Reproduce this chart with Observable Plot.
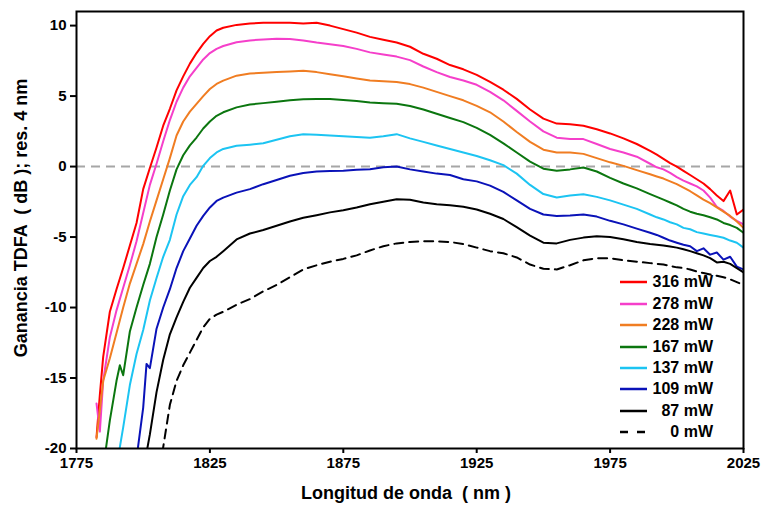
<!DOCTYPE html>
<html>
<head>
<meta charset="utf-8">
<script src="https://cdn.jsdelivr.net/npm/d3@7"></script>
<script src="https://cdn.jsdelivr.net/npm/@observablehq/plot@0.6"></script>
<style>
  html, body { margin: 0; padding: 0; background: #fff; }
  #chart { position: relative; width: 764px; height: 510px; font-family: 'Liberation Sans', Arial, sans-serif; font-weight: bold; }
  #legend { position: absolute; left: 620px; top: 271.6px; }
  #legend .row { display: flex; align-items: center; height: 21.43px; }
  #legend .lab { width: 66px; text-align: right; font-size: 16px; color: #000; line-height: 16px; }
</style>
</head>
<body>
<div id="chart"></div>
<script>
// ---- data ----
const wavelength = [
  1782.5,1783.75,1785,1787.5,1790,1791.25,1792.5,1795,1797.5,1800,1801.25,1802.5,1805,
  1807.5,1810,1812.5,1815,1817.5,1820,1822.5,1825,1827.5,1830,
  1835,1840,1845,1850,1855,1860,1865,1870,1875,1880,1885,1890,1895,1900,1905,1910,
  1915,1920,1925,1930,1935,1940,1945,1950,1955,1960,1965,1970,1975,1980,1985,1990,
  1992.5,1995,1997.5,2000,2002.5,2005,2007.5,2010,2012.5,2015,2017.5,2020,2022.5,2025
];
const gain316 = [
  -19.2,-16.2,-13.5,-10.3,-8.7,null,-7.2,-5.6,-4.0,-1.6,null,-0.1,1.35,
  2.9,4.1,5.4,6.4,7.3,8.05,8.7,9.25,9.65,9.85,
  10.05,10.15,10.2,10.2,10.2,10.15,10.2,10.0,9.75,9.5,9.2,9.0,8.8,8.5,8.0,7.65,
  7.2,6.9,6.5,6.0,5.45,4.8,4.05,3.4,3.05,3.0,2.9,2.65,2.35,2.0,1.6,1.12,
  0.85,0.55,0.25,0.0,-0.3,-0.6,-0.9,-1.2,-1.6,-2.05,-2.45,-1.7,-3.4,-3.05
];
const gain278 = [
  -16.8,-18.8,-15.2,-12.1,-10.2,null,-8.6,-7.0,-5.3,-3.3,null,-1.3,0.2,
  1.8,3.3,4.6,5.6,6.4,7.0,7.6,8.05,8.35,8.55,
  8.82,8.95,9.02,9.06,9.05,8.95,8.8,8.68,8.55,8.35,8.1,7.95,7.8,7.55,7.1,6.7,
  6.35,6.1,5.8,5.3,4.7,3.95,3.2,2.5,2.05,1.95,1.95,1.6,1.25,1.0,0.7,0.2,
  -0.05,-0.2,-0.45,-0.75,-1.0,-1.2,-1.4,-1.7,-2.2,-2.85,-3.15,-3.55,-3.85,-4.1
];
const gain228 = [
  -19.3,-17.3,-15.2,-13.6,-11.8,null,-10.0,-8.3,-6.9,-5.5,null,-3.9,-2.4,
  -0.9,0.6,2.2,3.2,3.9,4.45,5.0,5.5,5.86,6.1,
  6.45,6.6,6.65,6.7,6.75,6.8,6.7,6.55,6.4,6.25,6.1,6.05,6.0,5.85,5.6,5.3,
  5.0,4.7,4.3,3.85,3.2,2.45,1.75,1.2,1.0,1.0,0.9,0.6,0.3,0.05,-0.25,-0.55,
  -0.7,-0.85,-1.05,-1.25,-1.5,-1.75,-2.05,-2.35,-2.6,-2.9,-3.2,-3.5,-3.9,-4.35
];
const gain167 = [
  null,null,-21.4,-18.0,-15.2,-14.1,-14.8,-11.7,-10.0,-8.4,null,-6.9,-5.0,
  -3.4,-1.7,-0.2,0.8,1.5,2.06,2.7,3.2,3.6,3.85,
  4.2,4.4,4.5,4.6,4.7,4.78,4.8,4.8,4.72,4.65,4.55,4.5,4.45,4.3,4.05,3.75,
  3.45,3.15,2.75,2.25,1.65,1.0,0.35,-0.15,-0.3,-0.2,-0.07,-0.35,-0.8,-1.2,-1.55,-1.95,
  -2.15,-2.35,-2.55,-2.75,-3.0,-3.2,-3.35,-3.45,-3.6,-3.75,-4.0,-4.15,-4.35,-4.7
];
const gain137 = [
  null,null,null,null,-21.4,-19.9,-18.5,-15.5,-13.3,-11.6,null,-9.5,-7.9,
  -6.4,-5.2,-3.4,-2.1,-1.3,-0.75,0.05,0.6,1.0,1.25,
  1.47,1.55,1.65,1.9,2.15,2.3,2.25,2.2,2.15,2.1,2.05,2.15,2.3,2.0,1.75,1.5,
  1.25,1.0,0.75,0.45,0.1,-0.5,-1.3,-1.95,-2.2,-2.05,-1.97,-2.15,-2.4,-2.7,-3.0,-3.4,
  -3.6,-3.75,-3.95,-4.1,-4.35,-4.45,-4.65,-4.75,-4.85,-4.95,-5.05,-5.25,-5.4,-5.75
];
const gain109 = [
  null,null,null,null,null,null,null,null,-20.7,-17.1,-14.0,-14.3,-11.5,
  -10.0,-8.7,-7.2,-6.0,-5.1,-4.2,-3.5,-2.9,-2.44,-2.2,
  -1.85,-1.6,-1.25,-0.95,-0.65,-0.45,-0.35,-0.32,-0.3,-0.22,-0.19,-0.05,0.0,-0.2,-0.35,-0.5,
  -0.6,-0.9,-1.05,-1.35,-1.8,-2.4,-3.0,-3.4,-3.5,-3.48,-3.4,-3.55,-3.85,-4.1,-4.4,-4.7,
  -4.85,-5.05,-5.25,-5.4,-5.55,-5.65,-6.0,-5.8,-6.25,-6.1,-6.6,-6.4,-7.1,-7.3
];
const gain87 = [
  null,null,null,null,null,null,null,null,null,-21.7,-20.3,-19.0,-16.0,
  -13.7,-11.9,-10.7,-9.6,-8.6,-7.9,-7.2,-6.7,-6.4,-6.0,
  -5.17,-4.75,-4.5,-4.2,-3.9,-3.63,-3.45,-3.25,-3.1,-2.9,-2.67,-2.5,-2.32,-2.35,-2.55,-2.67,
  -2.75,-2.85,-3.05,-3.35,-3.72,-4.3,-4.9,-5.4,-5.45,-5.2,-5.04,-4.95,-5.0,-5.15,-5.35,-5.5,
  -5.55,-5.6,-5.67,-5.75,-5.87,-6.0,-6.15,-6.3,-6.5,-6.8,-6.75,-6.9,-7.2,-7.5
];
const gain0 = [
  null,null,null,null,null,null,null,null,null,null,null,null,-23.5,
  -19.9,-16.9,-15.2,-14.1,-13.2,-12.3,-11.4,-10.8,-10.5,-10.3,
  -9.8,-9.4,-8.85,-8.4,-7.85,-7.3,-7.0,-6.75,-6.55,-6.3,-5.95,-5.65,-5.45,-5.35,-5.3,-5.3,
  -5.35,-5.5,-5.75,-6.0,-6.15,-6.45,-6.95,-7.25,-7.3,-7.0,-6.65,-6.5,-6.5,-6.65,-6.75,-6.85,
  -6.9,-6.95,-7.05,-7.15,-7.2,-7.3,-7.45,-7.55,-7.65,-7.75,-7.85,-8.0,-8.2,-8.4
];
const seriesNames = ["316 mW","278 mW","228 mW","167 mW","137 mW","109 mW","87 mW","0 mW"];
const seriesColors = ["#ff0000","#f53fca","#f07d22","#0b760f","#1cc4f2","#0a12b8","#000000","#000000"];
const xTicks = [1775, 1825, 1875, 1925, 1975, 2025];
const yTicks = [-20, -15, -10, -5, 0, 5, 10];
const xTitle = "Longitud de onda  ( nm )";
const yTitle = "Ganancia TDFA  ( dB ); res. 4 nm";

// ---- build long table ----
const allGains = [gain316, gain278, gain228, gain167, gain137, gain109, gain87, gain0];
const rows = [];
allGains.forEach((arr, si) => {
  arr.forEach((v, i) => {
    if (v !== null) rows.push({x: wavelength[i], y: v, s: seriesNames[si]});
  });
});
const solidRows = rows.filter(d => d.s !== "0 mW");
const dashedRows = rows.filter(d => d.s === "0 mW");

const fmt = d => String(d);

const chart = Plot.plot({
  width: 764,
  height: 510,
  marginLeft: 76,
  marginRight: 21,
  marginTop: 11,
  marginBottom: 62,
  x: {domain: [1775, 2025]},
  y: {domain: [-20, 11]},
  color: {domain: seriesNames, range: seriesColors},
  style: {fontFamily: "'Liberation Sans', Arial, sans-serif", fontWeight: "bold", fontSize: "15px", color: "#000", background: "#fff"},
  marks: [
    Plot.ruleY([0], {stroke: "#a6a6a6", strokeWidth: 2, strokeDasharray: "9,6"}),
    Plot.line(solidRows, {x: "x", y: "y", z: "s", stroke: "s", strokeWidth: 2, clip: true}),
    Plot.line(dashedRows, {x: "x", y: "y", z: "s", stroke: "s", strokeWidth: 2, strokeDasharray: "9,6", clip: true}),
    Plot.frame({stroke: "#000", strokeWidth: 2}),
    Plot.axisX({ticks: xTicks, tickFormat: fmt, tickSize: 5, tickPadding: 4, strokeWidth: 2, label: null, fontSize: 15}),
    Plot.axisY({ticks: yTicks, tickFormat: fmt, tickSize: 6, tickPadding: 4, strokeWidth: 2, label: null, fontSize: 15}),
    Plot.text([xTitle], {text: d => d, frameAnchor: "bottom", textAnchor: "middle", dx: -4, dy: 50, fontSize: 18, fontWeight: "bold", fill: "#000"}),
    Plot.text([yTitle], {text: d => d, frameAnchor: "left", textAnchor: "middle", dx: -55, dy: -12, rotate: -90, fontSize: 18, fontWeight: "bold", fill: "#000"})
  ]
});

const container = document.getElementById("chart");
container.appendChild(chart);

// ---- legend (inside the plot, bottom right) ----
const legend = document.createElement("div");
legend.id = "legend";
seriesNames.forEach((name, i) => {
  const row = document.createElement("div");
  row.className = "row";
  const dashed = name === "0 mW";
  row.innerHTML =
    `<svg width="27" height="6" style="display:block"><line x1="0" y1="3" x2="27" y2="3" stroke="${seriesColors[i]}" stroke-width="2.5" ${dashed ? 'stroke-dasharray="8,9"' : ''}/></svg>` +
    `<div class="lab">${name}</div>`;
  legend.appendChild(row);
});
container.appendChild(legend);
</script>
</body>
</html>
